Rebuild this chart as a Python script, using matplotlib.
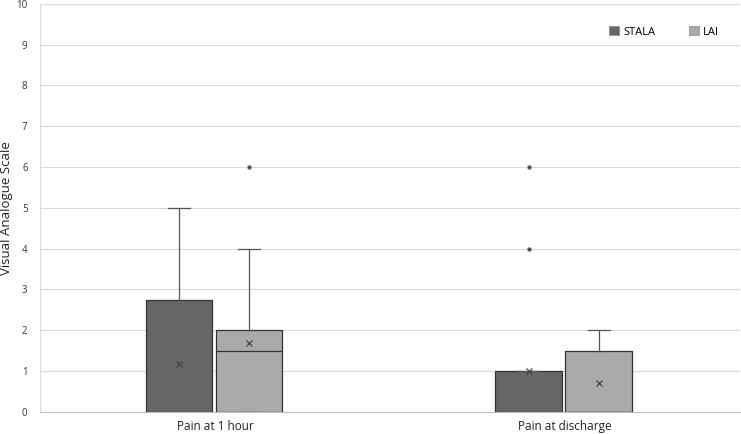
import matplotlib.pyplot as plt

plt.rcParams['font.family'] = ['Open Sans', 'DejaVu Sans']

categories = ['Pain at 1 hour', 'Pain at discharge']
series = ['STALA', 'LAI']
colors = ['#666666', '#aaaaaa']

# box stats per series: one entry per category
q1 = {'STALA': [0, 0], 'LAI': [0, 0]}
med = {'STALA': [0, 0], 'LAI': [1.5, 0]}
q3 = {'STALA': [2.75, 1.0], 'LAI': [2.0, 1.5]}
whislo = {'STALA': [0, 0], 'LAI': [0, 0]}
whishi = {'STALA': [5, 1.0], 'LAI': [4, 2.0]}
means = {'STALA': [1.17, 1.0], 'LAI': [1.69, 0.71]}
fliers = {'STALA': [[], [4, 6]], 'LAI': [[6], []]}

fig = plt.figure(figsize=(7.41, 4.34), dpi=100)
ax = fig.add_axes([0.054, 0.051, 0.944, 0.94])

offsets = [-0.103, 0.097]
for s, off, col in zip(series, offsets, colors):
    stats = []
    for i in range(len(categories)):
        stats.append(dict(q1=q1[s][i], med=med[s][i], q3=q3[s][i],
                          whislo=whislo[s][i], whishi=whishi[s][i],
                          mean=means[s][i], fliers=fliers[s][i]))
    pos = [i + off for i in range(len(categories))]
    ax.bxp(stats, positions=pos, widths=0.19, patch_artist=True,
           showmeans=True, manage_ticks=False,
           boxprops=dict(facecolor=col, edgecolor='#333333', linewidth=0.9),
           medianprops=dict(color='#333333', linewidth=0.9),
           whiskerprops=dict(color='#555555', linewidth=0.9),
           capprops=dict(color='#555555', linewidth=0.9),
           capwidths=0.063,
           meanprops=dict(marker='x', markeredgecolor='#444444', markersize=5, markeredgewidth=0.9),
           flierprops=dict(marker='o', markerfacecolor='#444444', markeredgecolor='#999999',
                           markersize=2.8, markeredgewidth=0.5))
    ax.bar([0], [0], color=col, edgecolor='#888888', linewidth=0.5, label=s)

ax.set_xlim(-0.5, 1.5)
ax.set_ylim(0, 10)
ax.set_yticks(range(0, 11))
ax.set_xticks(range(len(categories)))
ax.set_xticklabels(categories, fontsize=8.5, color='#222222')
ax.tick_params(axis='y', labelsize=7, colors='#333333', length=0, pad=9)
ax.tick_params(axis='x', length=0, pad=6)
ax.grid(axis='y', color='#d9d9d9', linewidth=0.8)
ax.set_axisbelow(True)
for sp in ['top', 'right']:
    ax.spines[sp].set_visible(False)
ax.spines['left'].set_color('#d9d9d9')
ax.spines['bottom'].set_color('#bfbfbf')
ax.set_ylabel('Visual Analogue Scale', fontsize=9.5, color='#222222')
ax.yaxis.set_label_coords(-0.039, 0.5)

ax.legend(loc='upper right', ncol=2, frameon=False, fontsize=8,
          handlelength=0.9, handleheight=0.9, columnspacing=3,
          handletextpad=0.4, bbox_to_anchor=(0.985, 0.97))

fig.savefig('out.png', dpi=100)
